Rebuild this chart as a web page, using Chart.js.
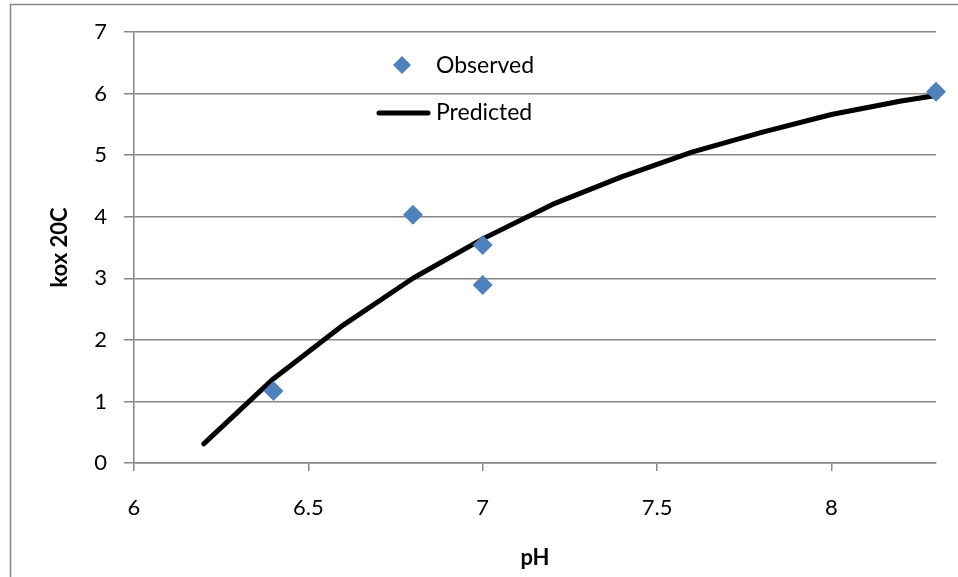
<!DOCTYPE html>
<html>
<head>
<meta charset="utf-8">
<title>kox 20C vs pH</title>
<script src="https://cdn.jsdelivr.net/npm/chart.js@4.4.1/dist/chart.umd.min.js"></script>
<style>
  html, body { margin: 0; padding: 0; background: #fff; }
  #wrap { position: relative; width: 958px; height: 577px; overflow: hidden; }
</style>
</head>
<body>
<div id="wrap"><canvas id="koxChart" width="958" height="577"></canvas></div>
<script>
// Measured rate constants
const observedPH = [6.4, 6.8, 7.0, 7.0, 8.3];
const observedKox = [1.17, 4.03, 3.54, 2.89, 6.03];

// Model curve
const predictedPH = [6.2, 6.4, 6.6, 6.8, 7.0, 7.2, 7.4, 7.6, 7.8, 8.0, 8.2, 8.3];
const predictedKox = [0.31, 1.37, 2.24, 3.0, 3.64, 4.2, 4.65, 5.05, 5.37, 5.66, 5.88, 5.97];

// Axis ticks
const xTicks = [6, 6.5, 7, 7.5, 8];
const yTicks = [0, 1, 2, 3, 4, 5, 6, 7];

const FONT = 'Lato, "Open Sans", sans-serif';
const AXIS_GREY = '#878787';
const BLUE = '#4F81BD';

// grey frame around the whole chart
const framePlugin = {
  id: 'frame',
  beforeDraw(chart) {
    const ctx = chart.ctx;
    ctx.save();
    ctx.strokeStyle = AXIS_GREY;
    ctx.lineWidth = 1.5;
    ctx.strokeRect(10.5, 4.5, 1000, 1000);
    ctx.restore();
  }
};

// legend sitting inside the plot area
const insideLegend = {
  id: 'insideLegend',
  afterDraw(chart) {
    const ctx = chart.ctx;
    const obs = chart.data.datasets[0];
    const pred = chart.data.datasets[1];
    ctx.save();
    // diamond
    ctx.fillStyle = obs.backgroundColor;
    ctx.beginPath();
    ctx.moveTo(402, 56);
    ctx.lineTo(411, 65);
    ctx.lineTo(402, 74);
    ctx.lineTo(393, 65);
    ctx.closePath();
    ctx.fill();
    // thick line
    ctx.strokeStyle = pred.borderColor;
    ctx.lineWidth = pred.borderWidth;
    ctx.lineCap = 'round';
    ctx.beginPath();
    ctx.moveTo(379, 113);
    ctx.lineTo(428, 113);
    ctx.stroke();
    ctx.fillStyle = '#000';
    ctx.font = '23px ' + FONT;
    ctx.textBaseline = 'middle';
    ctx.fillText(obs.label, 436, 66);
    ctx.fillText(pred.label, 436, 113);
    ctx.restore();
  }
};

const ctx = document.getElementById('koxChart').getContext('2d');
const koxChart = new Chart(ctx, {
  type: 'scatter',
  data: {
    datasets: [{
      label: 'Observed',
      data: observedPH.map((x, i) => ({ x: x, y: observedKox[i] })),
      pointStyle: 'rectRot',
      pointRadius: 10,
      backgroundColor: BLUE,
      borderColor: BLUE,
      borderWidth: 0,
      clip: false
    }, {
      label: 'Predicted',
      data: predictedPH.map((x, i) => ({ x: x, y: predictedKox[i] })),
      showLine: true,
      pointRadius: 0,
      borderColor: '#000',
      backgroundColor: '#000',
      borderWidth: 5,
      borderCapStyle: 'round',
      borderJoinStyle: 'round',
      tension: 0,
      clip: false
    }]
  },
  options: {
    responsive: false,
    animation: false,
    layout: { padding: { top: 32, right: 22, left: 0, bottom: 0 } },
    plugins: {
      legend: { display: false },
      tooltip: { enabled: false }
    },
    scales: {
      x: {
        type: 'linear',
        min: 6,
        max: 8.3,
        afterBuildTicks: (s) => { s.ticks = xTicks.map(v => ({ value: v })); },
        afterFit: (s) => { s.height = 114; },
        grid: { drawOnChartArea: false, drawTicks: true, tickLength: 8, color: AXIS_GREY, lineWidth: 1.5 },
        border: { display: true, color: AXIS_GREY, width: 1.5 },
        ticks: {
          color: '#000', font: { family: FONT, size: 22 }, padding: 24, maxRotation: 0,
          callback: (v) => String(v)
        },
        title: { display: true, text: 'pH', color: '#000', font: { family: FONT, size: 22, weight: 'bold' }, padding: { top: 0, bottom: 6 } }
      },
      y: {
        min: 0,
        max: 7,
        afterBuildTicks: (s) => { s.ticks = yTicks.map(v => ({ value: v })); },
        afterFit: (s) => { s.width = 134; },
        grid: { color: AXIS_GREY, lineWidth: 1.5, tickLength: 10 },
        border: { display: true, color: AXIS_GREY, width: 1.5 },
        ticks: { color: '#000', font: { family: FONT, size: 22 }, padding: 17 },
        title: { display: true, text: 'kox 20C', color: '#000', font: { family: FONT, size: 22, weight: 'bold' }, padding: { top: 47, bottom: 0 } }
      }
    }
  },
  plugins: [framePlugin, insideLegend]
});
</script>
</body>
</html>
